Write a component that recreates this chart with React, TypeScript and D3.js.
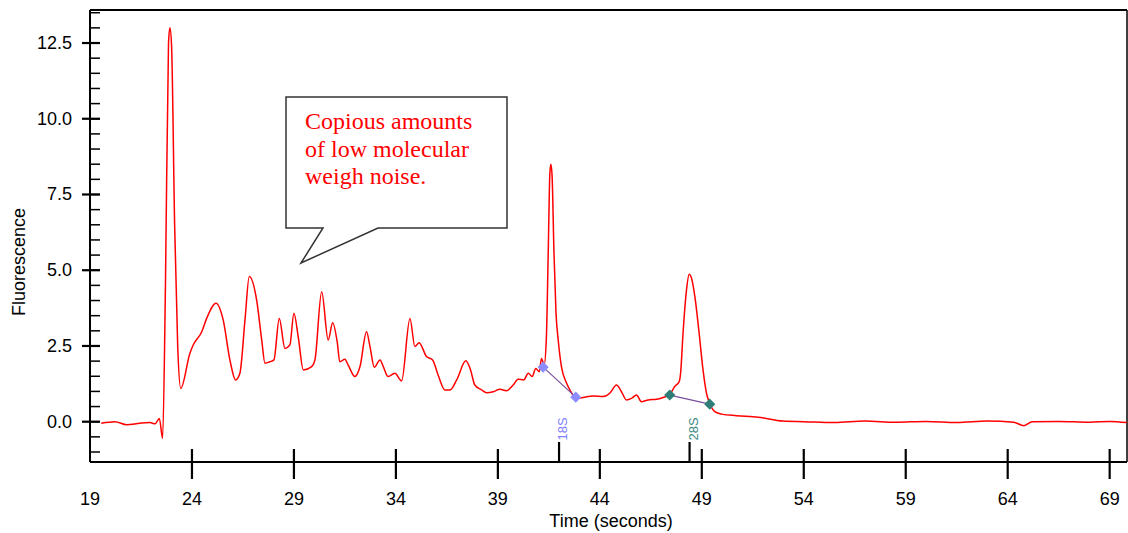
import React from "react";
import * as d3 from "d3";

// Electropherogram trace: time (s) and fluorescence
const traceTime: number[] = [
  19.55, 20.23, 20.8, 21.45, 21.94, 22.19, 22.4, 22.56,
  22.7, 22.85, 22.92, 23.0, 23.15, 23.3, 23.45,
  23.9, 24.06, 24.48, 24.72, 25.18, 25.53, 25.86, 26.14, 26.35, 26.6, 26.81,
  27.17, 27.42, 27.58, 27.82, 28.02, 28.28, 28.56, 28.8, 29.0, 29.21, 29.46,
  29.87, 30.03, 30.36, 30.68, 30.9, 31.12, 31.25, 31.5, 31.66, 31.99, 32.24,
  32.56, 32.73, 32.94, 33.22, 33.38, 33.62, 33.95, 34.28, 34.69, 34.93, 35.14,
  35.5, 35.8, 36.07, 36.4, 36.65, 36.98, 37.43, 37.66, 37.87, 38.2, 38.45,
  38.77, 39.1, 39.42, 39.75, 39.99, 40.27, 40.49, 40.68, 40.86, 41.03, 41.14,
  41.27, 41.38, 41.47, 41.55, 41.6, 41.66, 41.75, 41.85, 41.96, 42.12, 42.35,
  42.53, 42.86, 43.18, 43.67, 44.16, 44.49, 44.82, 45.06, 45.31, 45.55, 45.8,
  46.04, 46.37, 46.78, 47.1, 47.43, 47.67, 47.89, 47.96, 48.08, 48.25, 48.38,
  48.5, 48.66, 48.87, 49.06, 49.23, 49.39, 49.64, 49.97, 50.7, 51.76, 52.98,
  54.0, 55.5, 57.0, 58.5, 60.0, 61.5, 63.0, 64.3, 64.8, 65.2, 66.5, 68.0, 69.0, 69.85,
];
const traceValue: number[] = [
  -0.05, 0.0, -0.1, -0.05, -0.03, -0.07, 0.11, -0.55,
  4.5, 12.5, 13.0, 12.4, 6.5, 2.5, 1.1,
  2.26, 2.53, 2.97, 3.41, 3.91, 3.36, 2.04, 1.38, 1.6, 3.36, 4.79,
  4.02, 2.7, 1.93, 1.98, 2.04, 3.41, 2.42, 2.53, 3.58, 2.81, 1.71,
  1.82, 2.04, 4.29, 2.7, 3.27, 2.64, 1.98, 2.06, 1.87, 1.49, 1.82,
  2.97, 2.48, 1.8, 2.04, 1.82, 1.49, 1.6, 1.35, 3.41, 2.48, 2.61,
  2.15, 2.04, 1.54, 1.05, 1.05, 1.38, 2.01, 1.71, 1.21, 1.05, 0.96,
  0.99, 1.07, 1.02, 1.21, 1.4, 1.38, 1.6, 1.49, 1.76, 1.65, 2.09,
  1.87, 2.8, 5.6, 8.2, 8.5, 8.1, 5.6, 3.6, 2.69, 1.81, 1.3,
  1.05, 0.77, 0.8, 0.85, 0.83, 0.94, 1.21, 0.99, 0.72, 0.77, 0.88,
  0.66, 0.72, 0.74, 0.8, 0.9, 1.16, 1.32, 1.6, 2.92, 4.35, 4.87,
  4.73, 4.13, 2.92, 1.71, 0.94, 0.6, 0.33, 0.25, 0.2, 0.15, 0.02,
  0.0, -0.03, 0.02, -0.02, 0.01, -0.03, 0.02, -0.02, -0.13, 0.0, 0.01, -0.02, 0.01, -0.03,
];

// Peak region markers
const markerNames: string[] = ["18S", "28S"];
const markerTimes: number[] = [42.0, 48.4];
const markerStartTime: number[] = [41.22, 47.43];
const markerStartValue: number[] = [1.8, 0.88];
const markerEndTime: number[] = [42.82, 49.39];
const markerEndValue: number[] = [0.81, 0.58];
const markerColors: string[] = ["#8c8cff", "#2e7d76"];
const markerLabelColors: string[] = ["#8080ff", "#3a8a84"];

// Axes
const xTicks: number[] = [19, 24, 29, 34, 39, 44, 49, 54, 59, 64, 69];
const yTicks: number[] = [0, 2.5, 5, 7.5, 10, 12.5];
const yMinorTicks: number[] = d3.range(-1, 13.51, 0.5);
const xDomain: [number, number] = [19, 69.85];
const yDomain: [number, number] = [-1.33, 13.59];

const calloutLines: string[] = ["Copious amounts", "of low molecular", "weigh noise."];

export default function App() {
  const W = 1128;
  const H = 533;
  const left = 90, right = 1127, top = 10, bottom = 462;
  const x = d3.scaleLinear().domain(xDomain).range([left, right]);
  const y = d3.scaleLinear().domain(yDomain).range([bottom, top]);

  const pts: [number, number][] = traceTime.map((t, i) => [t, traceValue[i]]);
  const line = d3
    .line<[number, number]>()
    .x((d) => x(d[0]))
    .y((d) => y(d[1]))
    .curve(d3.curveMonotoneX);

  const font = "'Liberation Sans', Arial, sans-serif";

  return (
    <svg
      width={W}
      height={H}
      style={{ position: "absolute", left: 0, top: 0, background: "#fff" }}
    >
      <rect x={0} y={0} width={W} height={H} fill="#fff" />
      {/* frame */}
      <line x1={left} y1={top} x2={right} y2={top} stroke="#000" strokeWidth={2} />
      <line x1={right} y1={top} x2={right} y2={bottom} stroke="#000" strokeWidth={1.5} />
      <line x1={left} y1={top} x2={left} y2={bottom} stroke="#000" strokeWidth={2} />
      <line x1={left} y1={bottom} x2={right} y2={bottom} stroke="#000" strokeWidth={2} />

      {/* y minor ticks */}
      {yMinorTicks.map((v) => (
        <line key={"ym" + v} x1={left} x2={left + 10} y1={y(v)} y2={y(v)} stroke="#000" strokeWidth={1.5} />
      ))}
      {/* y major ticks */}
      {yTicks.map((v) => (
        <g key={"y" + v}>
          <line x1={left - 8} x2={left + 10} y1={y(v)} y2={y(v)} stroke="#000" strokeWidth={2.2} />
          <text x={left - 18} y={y(v) + 6} textAnchor="end" fontFamily={font} fontSize={18} fill="#000">
            {v.toFixed(1)}
          </text>
        </g>
      ))}
      {/* x ticks */}
      {xTicks.map((t) => (
        <g key={"x" + t}>
          {t !== 19 && (
            <line x1={x(t)} x2={x(t)} y1={bottom - 13} y2={bottom + 17} stroke="#000" strokeWidth={2.2} />
          )}
          <text x={x(t)} y={505} textAnchor="middle" fontFamily={font} fontSize={18} fill="#000">
            {t}
          </text>
        </g>
      ))}
      {/* marker ticks */}
      {markerTimes.map((t, i) => (
        <line key={"mt" + i} x1={x(t)} x2={x(t)} y1={bottom - 20} y2={bottom} stroke="#000" strokeWidth={2.2} />
      ))}

      {/* axis titles */}
      <text x={611} y={527} textAnchor="middle" fontFamily={font} fontSize={18} fill="#000">
        Time (seconds)
      </text>
      <text
        transform={`translate(25,262) rotate(-90)`}
        textAnchor="middle"
        fontFamily={font}
        fontSize={18}
        fill="#000"
      >
        Fluorescence
      </text>

      {/* trace */}
      <path d={line(pts) || ""} fill="none" stroke="#ff0000" strokeWidth={1.5} strokeLinejoin="round" />

      {/* markers */}
      {markerNames.map((name, i) => {
        const x1 = x(markerStartTime[i]);
        const y1 = y(markerStartValue[i]);
        const x2 = x(markerEndTime[i]);
        const y2 = y(markerEndValue[i]);
        const diamond = d3.symbol().type(d3.symbolSquare).size(62)() || "";
        return (
          <g key={name}>
            <line x1={x1} y1={y1} x2={x2} y2={y2} stroke="#7a4f9a" strokeWidth={1.2} />
            <path d={diamond} transform={`translate(${x1},${y1}) rotate(45)`} fill={markerColors[i]} />
            <path d={diamond} transform={`translate(${x2},${y2}) rotate(45)`} fill={markerColors[i]} />
            <text
              transform={`translate(${x(markerTimes[i]) + 8},${429}) rotate(-90)`}
              textAnchor="middle"
              fontFamily={font}
              fontSize={13}
              fill={markerLabelColors[i]}
            >
              {name}
            </text>
          </g>
        );
      })}

      {/* callout */}
      <path
        d="M286,97 L507,97 L507,228 L378,228 L301,263 L323,228 L286,228 Z"
        fill="#fff"
        stroke="#333"
        strokeWidth={1.5}
      />
      {calloutLines.map((s, i) => (
        <text
          key={s}
          x={305}
          y={129 + i * 27.5}
          fontFamily="'Liberation Serif', 'Times New Roman', serif"
          fontSize={24}
          fill="#ff0000"
        >
          {s}
        </text>
      ))}
    </svg>
  );
}
